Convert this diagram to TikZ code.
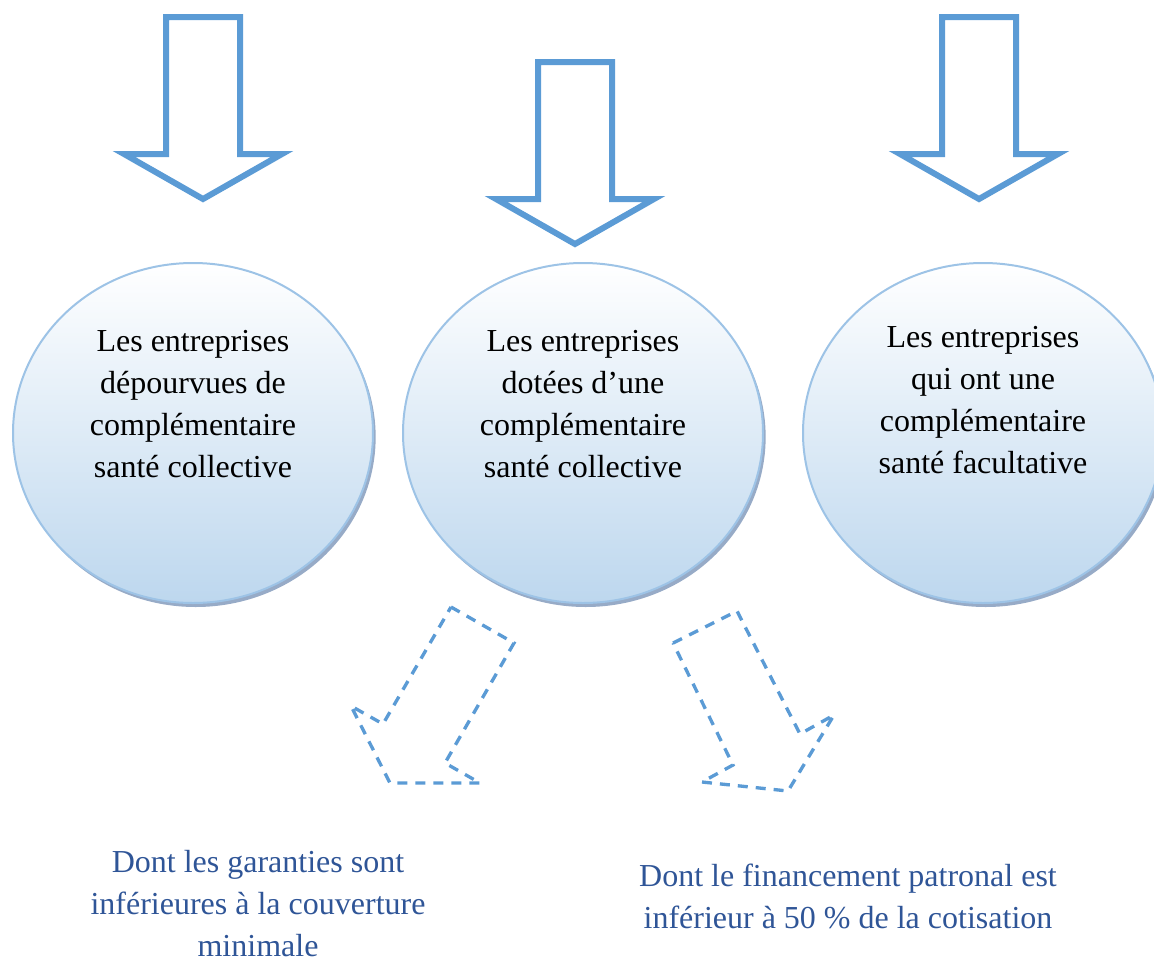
\documentclass[tikz,border=0pt]{standalone}
\usepackage{fontspec}
\setmainfont{Liberation Serif}
\usetikzlibrary{shapes.geometric,shadows}

\definecolor{arrowblue}{RGB}{91,155,213}
\definecolor{rimblue}{RGB}{157,195,230}
\definecolor{fillblue}{RGB}{189,215,238}
\definecolor{textblue}{RGB}{47,85,151}
\definecolor{shadowblue}{RGB}{125,150,185}

\begin{document}
\begin{tikzpicture}[x=0.75pt,y=-0.75pt,
    bulle/.style={ellipse, draw=rimblue, line width=1.5pt, top color=white,
      bottom color=fillblue, minimum width=270pt, minimum height=255pt,
      drop shadow={shadow xshift=2pt, shadow yshift=-3pt, fill=shadowblue, opacity=0.8}},
    texte/.style={align=center, font=\fontsize{24}{31.5}\selectfont},
    fleche/.style={draw=arrowblue, line width=4.5pt},
    pointille/.style={draw=arrowblue, line width=2.5pt, dash pattern=on 7.5pt off 6pt}]
      \useasboundingbox (0,0) rectangle (1154,961);

      %% grosses fleches du haut
      \foreach \x/\y in {203/17, 575/62, 979/17}
        \draw[fleche] ({\x-37},\y) -- ++(74,0) -- ++(0,137) -- ++(42,0)
          -- ++(-79,45) -- ++(-79,-45) -- ++(42,0) -- cycle;

      \node[bulle] (1) at (193,433) {};
      \node[bulle] (2) at (583,433) {};
      \node[bulle] (3) at (983,433) {};

      \node[texte] (1t) at (193,404) {Les entreprises\\dépourvues de\\complémentaire\\santé collective};
      \node[texte] (2t) at (583,404) {Les entreprises\\dotées d’une\\complémentaire\\santé collective};
      \node[texte] (3t) at (983,400) {Les entreprises\\qui ont une\\complémentaire\\santé facultative};

      %% fleches en pointilles
      \draw[pointille] (451,607) -- (514,643) -- (445,763) -- (480,783)
        -- (390,783) -- (351,706) -- (383,724) -- cycle;
      \draw[pointille] (673,643) -- (737,611) -- (800,734) -- (834,715)
        -- (788,791) -- (702,782) -- (733,765) -- cycle;

      \node[texte, text=textblue, inner sep=0.5pt] (4) at (258,904) {Dont les garanties sont\\inférieures à la couverture\\minimale};
      \node[texte, text=textblue] (5) at (848,896) {Dont le financement patronal est\\inférieur à 50 \% de la cotisation};
    \end{tikzpicture}
\end{document}
